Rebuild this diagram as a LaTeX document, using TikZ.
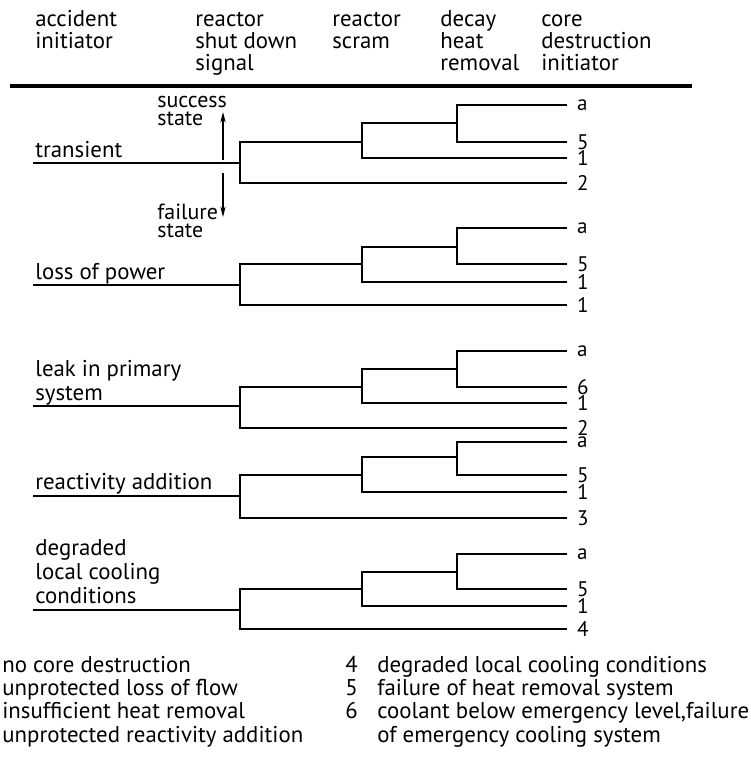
\documentclass[tikz,border=0pt]{standalone}
\usepackage{fontspec}
\setmainfont{PT Sans}
\usetikzlibrary{positioning, arrows.meta}

\begin{document}
\begin{tikzpicture}[x=0.02cm, y=-0.02cm,
  branch/.style={line width=1.3pt},
  outcome/.style={anchor=west, inner xsep=5.5pt, inner ysep=0pt, font=\fontsize{12}{13}\selectfont},
  heading/.style={anchor=base west, inner sep=0pt, align=left, font=\fontsize{13}{12.3}\selectfont},
  initiator/.style={anchor=base west, inner sep=0pt, align=left, font=\fontsize{13}{13.6}\selectfont},
  statelabel/.style={anchor=base west, inner sep=0pt, align=left, font=\fontsize{12.5}{10.2}\selectfont},
  legend/.style={anchor=base west, inner sep=0pt, font=\fontsize{13}{13}\selectfont},
  statearrow/.style={-{Stealth[length=6pt,width=3pt]}, line width=0.8pt}
]
\useasboundingbox (0,0) rectangle (751,765);

% column headings
\node[heading] (hinit) at (35,48) {accident\\initiator};
\node[heading] (hsignal) at (195,70) {reactor\\shut down\\signal};
\node[heading] (hscram) at (332,48) {reactor\\scram};
\node[heading] (hdecay) at (440,70) {decay\\heat\\removal};
\node[heading] (hcore) at (541,70) {core\\destruction\\initiator};
\coordinate (rl) at (10,86);
\coordinate (rr) at (692,86);
\draw[line width=1.8pt] (rl) -- (rr);

% transient
\coordinate (t1in) at (33,163);
\coordinate (t1r) at (240,163);
\coordinate (t1s) at (362,142);
\coordinate (t1h) at (457,123);
\node[outcome] (t1a) at (567,105) {a};
\node[outcome] (t1b) at (567,142) {5};
\node[outcome] (t1c) at (567,158) {1};
\node[outcome] (t1d) at (567,183) {2};
\node[initiator] (t1lab) at (35,157) {transient};
\draw[branch] (t1in) -- (t1r);
\draw[branch] (t1a.west) -| (t1h) |- (t1b.west);
\draw[branch] (t1h) -| (t1s) |- (t1c.west);
\draw[branch] (t1s) -| (t1r) |- (t1d.west);

% success / failure
\node[statelabel] (success) at (157,125) {success\\state};
\node[statelabel] (failure) at (157,237) {failure\\state};
\coordinate (sup1) at (223,160);
\coordinate (sup2) at (223,112);
\coordinate (fail1) at (223,173);
\coordinate (fail2) at (223,217);
\draw[statearrow] (sup1) -- (sup2);
\draw[statearrow] (fail1) -- (fail2);

% loss of power
\coordinate (t2in) at (33,285);
\coordinate (t2r) at (240,285);
\coordinate (t2s) at (362,264);
\coordinate (t2h) at (457,247);
\node[outcome] (t2a) at (567,228) {a};
\node[outcome] (t2b) at (567,264) {5};
\node[outcome] (t2c) at (567,282) {1};
\node[outcome] (t2d) at (567,305) {1};
\node[initiator] (t2lab) at (35,279) {loss of power};
\draw[branch] (t2in) -- (t2r);
\draw[branch] (t2a.west) -| (t2h) |- (t2b.west);
\draw[branch] (t2h) -| (t2s) |- (t2c.west);
\draw[branch] (t2s) -| (t2r) |- (t2d.west);

% leak in primary system
\coordinate (t3in) at (33,406);
\coordinate (t3r) at (240,406);
\coordinate (t3s) at (362,387);
\coordinate (t3h) at (457,369);
\node[outcome] (t3a) at (567,351) {a};
\node[outcome] (t3b) at (567,387) {6};
\node[outcome] (t3c) at (567,403) {1};
\node[outcome] (t3d) at (567,428) {2};
\node[initiator] (t3lab) at (35,400) {leak in primary\\system};
\draw[branch] (t3in) -- (t3r);
\draw[branch] (t3a.west) -| (t3h) |- (t3b.west);
\draw[branch] (t3h) -| (t3s) |- (t3c.west);
\draw[branch] (t3s) -| (t3r) |- (t3d.west);

% reactivity addition
\coordinate (t4in) at (33,496);
\coordinate (t4r) at (240,496);
\coordinate (t4s) at (362,475);
\coordinate (t4h) at (457,457);
\node[outcome] (t4a) at (567,442) {a};
\node[outcome] (t4b) at (567,475) {5};
\node[outcome] (t4c) at (567,492) {1};
\node[outcome] (t4d) at (567,518) {3};
\node[initiator] (t4lab) at (35,489) {reactivity addition};
\draw[branch] (t4in) -- (t4r);
\draw[branch] (t4a.west) -| (t4h) |- (t4b.west);
\draw[branch] (t4h) -| (t4s) |- (t4c.west);
\draw[branch] (t4s) -| (t4r) |- (t4d.west);

% degraded local cooling
\coordinate (t5in) at (33,610);
\coordinate (t5r) at (240,610);
\coordinate (t5s) at (362,589);
\coordinate (t5h) at (457,572);
\node[outcome] (t5a) at (567,554) {a};
\node[outcome] (t5b) at (567,589) {5};
\node[outcome] (t5c) at (567,606) {1};
\node[outcome] (t5d) at (567,629) {4};
\node[initiator] (t5lab) at (35,603) {degraded\\local cooling\\conditions};
\draw[branch] (t5in) -- (t5r);
\draw[branch] (t5a.west) -| (t5h) |- (t5b.west);
\draw[branch] (t5h) -| (t5s) |- (t5c.west);
\draw[branch] (t5s) -| (t5r) |- (t5d.west);

% legend
\node[legend] (l1) at (2,672) {no core destruction};
\node[legend] (l2) at (2,695) {unprotected loss of flow};
\node[legend] (l3) at (2,718) {insufficient heat removal};
\node[legend] (l4) at (2,742) {unprotected reactivity addition};
\node[legend] (n4) at (345,672) {4};
\node[legend] (l5) at (377,672) {degraded local cooling conditions};
\node[legend] (n5) at (345,695) {5};
\node[legend] (l6) at (377,695) {failure of heat removal system};
\node[legend] (n6) at (345,718) {6};
\node[legend] (l7) at (377,718) {coolant below emergency level,failure};
\node[legend] (l8) at (377,742) {of emergency cooling system};
\end{tikzpicture}
\end{document}
